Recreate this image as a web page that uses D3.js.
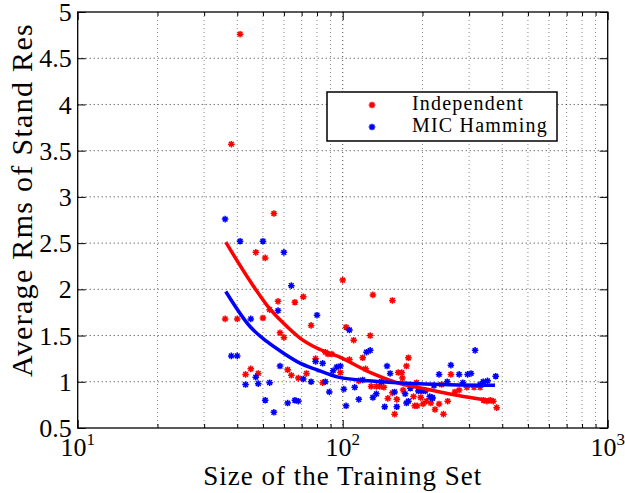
<!DOCTYPE html>
<html><head><meta charset="utf-8">
<script src="https://cdn.jsdelivr.net/npm/d3@7"></script>
<style>body{margin:0;background:#fff} svg{display:block} text{font-family:'Liberation Serif',serif}</style>
</head><body>
<script>
// ---- data ----
const xMajorTicks = [10, 100, 1000];
const xTickExponents = ["1", "2", "3"];
const xMinorTicks = [20,30,40,50,60,70,80,90,200,300,400,500,600,700,800,900];
const yTicks = [0.5,1,1.5,2,2.5,3,3.5,4,4.5,5];
const yTickLabels = ["0.5","1","1.5","2","2.5","3","3.5","4","4.5","5"];
const seriesNames = ["Independent", "MIC Hamming"];
const seriesColors = ["#ff0000", "#0000ff"];
const xLabel = "Size of the Training Set";
const yLabel = "Average Rms of Stand Res";

const indepX = [41,38,55,47,51,71,66,57,100,130,154,53,36,40,50,76,103,58,60,110,127,119,106,86,88,91,79,45,43,48,62,64,68,73,84,98,122,115,128,134,138,143,162,154,148,160,157,177,174,167,168,256,275,294,313,330,236,265,249,231,240,223,215,187,191,185,197,201,207,169,190,381,340,350,360,370];
const indepY = [4.76,3.57,2.82,2.40,2.34,1.92,1.86,1.87,2.10,1.94,1.88,1.78,1.68,1.68,1.69,1.61,1.59,1.53,1.48,1.45,1.50,1.26,1.24,1.32,1.30,1.30,1.25,1.14,1.08,1.09,1.13,1.07,1.04,1.09,0.99,1.10,1.14,1.01,0.95,0.95,0.95,0.94,1.10,0.88,0.82,0.81,0.65,1.26,1.17,1.10,1.04,1.08,0.91,0.94,0.94,0.94,0.97,0.89,0.79,0.76,0.65,0.70,0.77,0.74,0.74,0.84,0.83,0.76,0.79,0.91,0.99,0.72,0.80,0.79,0.80,0.79];

const micX = [36,41,50,60,64,57,45,80,106,123,127,79,84,38,40,47,43,48,53,58,71,76,86,92,95,98,119,111,101,89,103,115,130,134,140,147,151,144,160,157,55,51,62,66,68,316,256,231,275,296,305,378,248,284,352,339,330,218,218,174,177,172,193,199,205,213,180,182,221];
const micY = [2.76,2.52,2.52,2.40,2.04,1.77,1.68,1.72,1.56,1.32,1.34,1.22,1.20,1.28,1.28,1.05,0.97,0.98,0.99,1.17,1.03,1.00,1.00,1.12,1.16,1.17,1.02,0.94,0.92,0.89,0.74,0.81,0.83,0.87,1.00,1.17,1.09,0.73,0.73,0.89,0.67,0.80,0.77,0.80,0.79,1.34,1.18,1.08,1.08,1.08,1.09,1.06,1.00,0.99,1.01,1.00,0.97,0.83,0.82,0.77,0.79,0.87,0.90,0.90,0.90,0.84,0.93,0.96,0.96];

const fitX = [36.2,44.7,51.7,59.7,69.0,79.8,96.2,128.7,167,204.5,254,375.5];
const indepFitY = [2.51,2.09,1.83,1.635,1.473,1.365,1.274,1.094,0.975,0.924,0.867,0.787];
const micFitY = [1.977,1.598,1.436,1.311,1.202,1.130,1.050,1.008,0.986,0.975,0.967,0.962];

// ---- drawing ----
const W = 625, H = 493;
const L = 77.7, R = 607.7, T = 12, B = 428;
const FONT = "Liberation Serif";

const svg = d3.select("body").append("svg").attr("width", W).attr("height", H);

const x = d3.scaleLog().domain([10, 1000]).range([L, R]);
const y = d3.scaleLinear().domain([0.5, 5]).range([B, T]);

// grid
const grid = svg.append("g").attr("stroke", "#000").attr("stroke-width", 0.8)
  .attr("stroke-dasharray", "1,3").attr("fill", "none");
grid.selectAll("line.v").data(xMinorTicks.concat([100])).join("line")
  .attr("x1", d => x(d)).attr("x2", d => x(d)).attr("y1", T).attr("y2", B)
  .attr("stroke-opacity", d => d === 100 ? 0.9 : 0.6);
grid.selectAll("line.h").data(yTicks.filter(d => d > 0.5 && d < 5)).join("line")
  .attr("x1", L).attr("x2", R).attr("y1", d => y(d)).attr("y2", d => y(d));

// axes ticks (inward, all four sides)
function styleAxis(g){ g.select(".domain").remove(); g.selectAll("line").attr("stroke","#000"); }
svg.append("g").attr("transform", `translate(0,${B})`)
  .call(d3.axisBottom(x).tickValues(xMajorTicks).tickSizeInner(-8).tickSizeOuter(0).tickFormat(() => ""))
  .call(styleAxis);
svg.append("g").attr("transform", `translate(0,${B})`)
  .call(d3.axisBottom(x).tickValues(xMinorTicks).tickSizeInner(-4).tickSizeOuter(0).tickFormat(() => ""))
  .call(styleAxis);
svg.append("g").attr("transform", `translate(0,${T})`)
  .call(d3.axisTop(x).tickValues(xMajorTicks).tickSizeInner(-8).tickSizeOuter(0).tickFormat(() => ""))
  .call(styleAxis);
svg.append("g").attr("transform", `translate(0,${T})`)
  .call(d3.axisTop(x).tickValues(xMinorTicks).tickSizeInner(-4).tickSizeOuter(0).tickFormat(() => ""))
  .call(styleAxis);
const yAx = svg.append("g").attr("transform", `translate(${L},0)`)
  .call(d3.axisLeft(y).tickValues(yTicks).tickSizeInner(-8).tickSizeOuter(0)
        .tickPadding(6).tickFormat((d, i) => yTickLabels[i]))
  .call(styleAxis);
yAx.attr("font-family", FONT);
yAx.selectAll("text").attr("font-size", 26).attr("font-family", FONT).attr("fill", "#000").attr("dy", "0.33em");
svg.append("g").attr("transform", `translate(${R},0)`)
  .call(d3.axisRight(y).tickValues(yTicks).tickSizeInner(-8).tickSizeOuter(0).tickFormat(() => ""))
  .call(styleAxis);

// x tick labels with superscripts
const xl = svg.append("g").selectAll("text").data(xMajorTicks).join("text")
  .attr("x", d => x(d)).attr("y", 456).attr("text-anchor", "middle")
  .attr("font-family", FONT).attr("font-size", 26).attr("fill", "#000");
xl.append("tspan").text("10");
xl.append("tspan").attr("dy", -11).attr("font-size", 17).text((d, i) => xTickExponents[i]);

// frame
svg.append("rect").attr("x", L).attr("y", T).attr("width", R - L).attr("height", B - T)
  .attr("fill", "none").attr("stroke", "#000").attr("stroke-width", 1.3);

// axis titles
svg.append("text").attr("x", (L + R) / 2).attr("y", 485).attr("text-anchor", "middle")
  .attr("font-family", FONT).attr("font-size", 27).attr("letter-spacing", 1).attr("fill", "#000").text(xLabel);
svg.append("text").attr("transform", `translate(32,200) rotate(-90)`)
  .attr("text-anchor", "middle").attr("font-family", FONT).attr("font-size", 30).attr("letter-spacing", 1.3)
  .attr("fill", "#000").text(yLabel);

// markers
const r = 3.3, a = r * 0.72;
const star = `M${-r},0H${r}M0,${-r}V${r}M${-a},${-a}L${a},${a}M${-a},${a}L${a},${-a}`;
const series = [
  {xs: indepX, ys: indepY, c: seriesColors[0]},
  {xs: micX, ys: micY, c: seriesColors[1]}
];
series.forEach(s => {
  svg.append("g").selectAll("path").data(s.xs.map((v, i) => [v, s.ys[i]])).join("path")
    .attr("d", star).attr("transform", d => `translate(${x(d[0])},${y(d[1])})`)
    .attr("stroke", s.c).attr("stroke-width", 1.5).attr("fill", "none");
});

// fitted curves
const line = d3.line().x(d => x(d[0])).y(d => y(d[1])).curve(d3.curveMonotoneX);
[[indepFitY, seriesColors[0]], [micFitY, seriesColors[1]]].forEach(([ys, c]) => {
  svg.append("path").datum(fitX.map((v, i) => [v, ys[i]])).attr("d", line)
    .attr("fill", "none").attr("stroke", c).attr("stroke-width", 3.5);
});

// legend
const lg = svg.append("g");
lg.append("rect").attr("x", 327).attr("y", 92).attr("width", 230).attr("height", 49)
  .attr("fill", "#fff").attr("stroke", "#000").attr("stroke-width", 1.5);
seriesNames.forEach((n, i) => {
  lg.append("path").attr("d", star).attr("transform", `translate(372,${105 + i * 22})`)
    .attr("stroke", seriesColors[i]).attr("stroke-width", 1.5).attr("fill", "none");
  lg.append("text").attr("x", 412).attr("y", 110 + i * 22)
    .attr("font-family", FONT).attr("font-size", 20).attr("letter-spacing", 1.2).attr("fill", "#000").text(n);
});
</script>
</body></html>
